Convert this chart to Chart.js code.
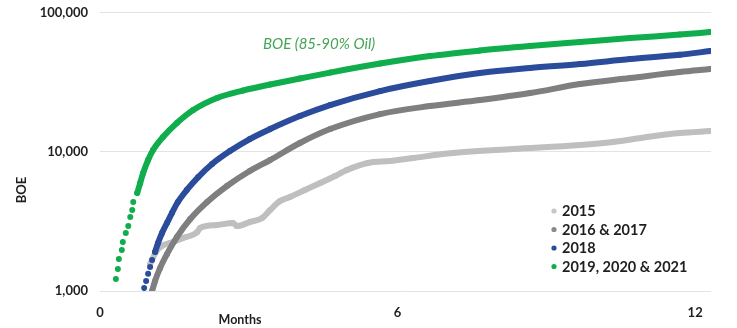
<!DOCTYPE html>
<html>
<head>
<meta charset="utf-8">
<script src="https://cdn.jsdelivr.net/npm/chart.js@4/dist/chart.umd.min.js"></script>
<style>
  html, body { margin: 0; padding: 0; background: #ffffff; }
  #wrap { width: 737px; height: 328px; }
</style>
</head>
<body>
<div id="wrap"><canvas id="c" width="737" height="328"></canvas></div>
<script>
// Cumulative BOE per well vintage, by months on production (log scale)
const seriesNames = ['2015', '2016 & 2017', '2018', '2019, 2020 & 2021'];
const seriesColors = ['#bfbfbf', '#7f7f7f', '#2b4b9b', '#10ad4c'];
const legendDotColors = ['#c6c6c6', '#8a8a8a', '#2b4b9b', '#10ad4c'];

const yTicks = [1000, 10000, 100000];
const xTicks = [0, 6, 12];
const xTickLabels = ['0', '6', '12'];

const months2015 = [1.01, 1.13, 1.25, 1.41, 1.67, 1.96, 2.02, 2.36, 2.68, 2.76, 3.02, 3.27, 3.43, 3.63, 3.83, 4.13, 4.44, 4.74, 4.98, 5.40, 5.85, 6.31, 7.12, 8.33, 9.68, 10.34, 11.03, 11.69, 12.30];
const boe2015 = [1560, 1910, 2110, 2210, 2400, 2650, 2840, 2980, 3080, 2930, 3130, 3350, 3820, 4430, 4740, 5320, 5970, 6700, 7400, 8310, 8590, 9030, 9800, 10470, 11190, 11760, 12770, 13650, 14110];

const months2016_17 = [1.05, 1.11, 1.21, 1.35, 1.55, 1.82, 2.16, 2.56, 3.02, 3.43, 4.03, 4.64, 5.65, 6.65, 7.66, 8.67, 9.68, 10.69, 11.69, 12.30];
const boe2016_17 = [1000, 1180, 1460, 1840, 2440, 3290, 4360, 5680, 7280, 8730, 11570, 14580, 18690, 21330, 23560, 26450, 30690, 33900, 37440, 39340];

const months2018 = [0.89, 0.93, 0.97, 1.01, 1.05, 1.11, 1.17, 1.25, 1.35, 1.45, 1.57, 1.75, 1.98, 2.26, 2.62, 3.02, 3.43, 4.03, 4.64, 5.65, 6.65, 7.66, 8.67, 9.68, 10.69, 11.69, 12.30];
const boe2018 = [1050, 1180, 1330, 1490, 1670, 1910, 2210, 2610, 3080, 3630, 4360, 5320, 6590, 8180, 10130, 12360, 14580, 18080, 21690, 27340, 32260, 36830, 39990, 42720, 46420, 49800, 52990];

const months2019_21 = [0.32, 0.36, 0.38, 0.44, 0.46, 0.52, 0.57, 0.61, 0.65, 0.67, 0.75, 0.81, 0.87, 0.97, 1.07, 1.27, 1.55, 1.88, 2.36, 2.88, 3.43, 4.03, 4.64, 5.65, 6.65, 7.66, 8.67, 9.68, 10.69, 11.69, 12.30];
const boe2019_21 = [1220, 1440, 1700, 1970, 2250, 2610, 2930, 3400, 3820, 4360, 5060, 5970, 7040, 8730, 10300, 12770, 16100, 19970, 24350, 27570, 30450, 33630, 37130, 43100, 48780, 53430, 57560, 61500, 65700, 69620, 72530];

// number of leading daily samples that show as separate dots before merging into a line
const separateDots = [0, 0, 6, 11];

const monthsList = [months2015, months2016_17, months2018, months2019_21];
const boeList = [boe2015, boe2016_17, boe2018, boe2019_21];

const FONT = 'Lato, "Open Sans", sans-serif';
const TEXT = '#1f1f1f';

function pairs(xs, ys) { return xs.map((x, i) => ({ x: x, y: ys[i] })); }

const datasets = seriesNames.map((name, i) => ({
  label: name,
  data: pairs(monthsList[i], boeList[i]),
  borderColor: seriesColors[i],
  backgroundColor: seriesColors[i],
  pointBackgroundColor: seriesColors[i],
  pointBorderWidth: 0,
  pointRadius: 3,
  pointHoverRadius: 3,
  borderWidth: 6,
  borderCapStyle: 'round',
  borderJoinStyle: 'round',
  cubicInterpolationMode: 'monotone',
  order: seriesNames.length - i,
  segment: {
    borderColor: ctx => (ctx.p1DataIndex < separateDots[i] ? 'rgba(0,0,0,0)' : undefined)
  }
}));

const overlayText = {
  id: 'overlayText',
  afterDraw(chart) {
    const c = chart.ctx;
    const a = chart.chartArea;
    c.save();
    c.fillStyle = TEXT;

    // vertical axis title
    c.save();
    c.translate(22, 190);
    c.rotate(-Math.PI / 2);
    c.font = 'bold 13px ' + FONT;
    c.textAlign = 'center';
    c.textBaseline = 'middle';
    c.fillText('BOE', 0, 0);
    c.restore();

    // horizontal axis title
    c.font = 'bold 12.5px ' + FONT;
    c.textAlign = 'center';
    c.textBaseline = 'middle';
    c.fillText('Months', a.left + 140, 320);

    // series note
    c.font = 'italic 15px ' + FONT;
    c.fillStyle = '#45a556';
    c.textAlign = 'left';
    c.fillText('BOE (85-90% Oil)', a.left + 163, 44);

    // legend
    const lx = a.right - 157;
    let ly = a.bottom - 80;
    c.font = 'bold 14.5px ' + FONT;
    chart.data.datasets.forEach((ds, i) => {
      c.fillStyle = legendDotColors[i];
      c.beginPath();
      c.arc(lx, ly, 2.6, 0, Math.PI * 2);
      c.fill();
      c.fillStyle = TEXT;
      c.textAlign = 'left';
      c.textBaseline = 'middle';
      c.fillText(ds.label, lx + 8, ly + 0.5);
      ly += 18.5;
    });
    c.restore();
  }
};

new Chart(document.getElementById('c'), {
  type: 'line',
  data: { datasets: datasets },
  options: {
    responsive: false,
    devicePixelRatio: 1,
    animation: false,
    events: [],
    layout: { padding: { top: 12.7, right: 26, left: 0, bottom: 0 } },
    plugins: { legend: { display: false }, tooltip: { enabled: false } },
    scales: {
      x: {
        type: 'linear',
        min: 0,
        max: 12.32,
        afterBuildTicks: s => { s.ticks = xTicks.map(v => ({ value: v })); },
        afterFit: s => { s.height = 37; s.paddingLeft = 0; s.paddingRight = 0; },
        grid: { display: false, drawTicks: false },
        border: { display: false },
        ticks: {
          padding: 14,
          maxRotation: 0,
          color: TEXT,
          font: { family: FONT, weight: 'bold', size: 13 },
          callback: (v) => { const k = xTicks.indexOf(v); return k >= 0 ? xTickLabels[k] : ''; }
        }
      },
      y: {
        type: 'logarithmic',
        min: 1000,
        max: 100000,
        afterBuildTicks: s => { s.ticks = yTicks.map(v => ({ value: v })); },
        afterFit: s => { s.width = 100; s.paddingTop = 0; s.paddingBottom = 0; },
        grid: { color: '#e3e3e3', lineWidth: 1, drawTicks: false },
        border: { display: false },
        ticks: {
          padding: 12,
          color: TEXT,
          font: { family: FONT, weight: 'bold', size: 13 },
          callback: v => Number(v).toLocaleString('en-US')
        }
      }
    }
  },
  plugins: [overlayText]
});
</script>
</body>
</html>
